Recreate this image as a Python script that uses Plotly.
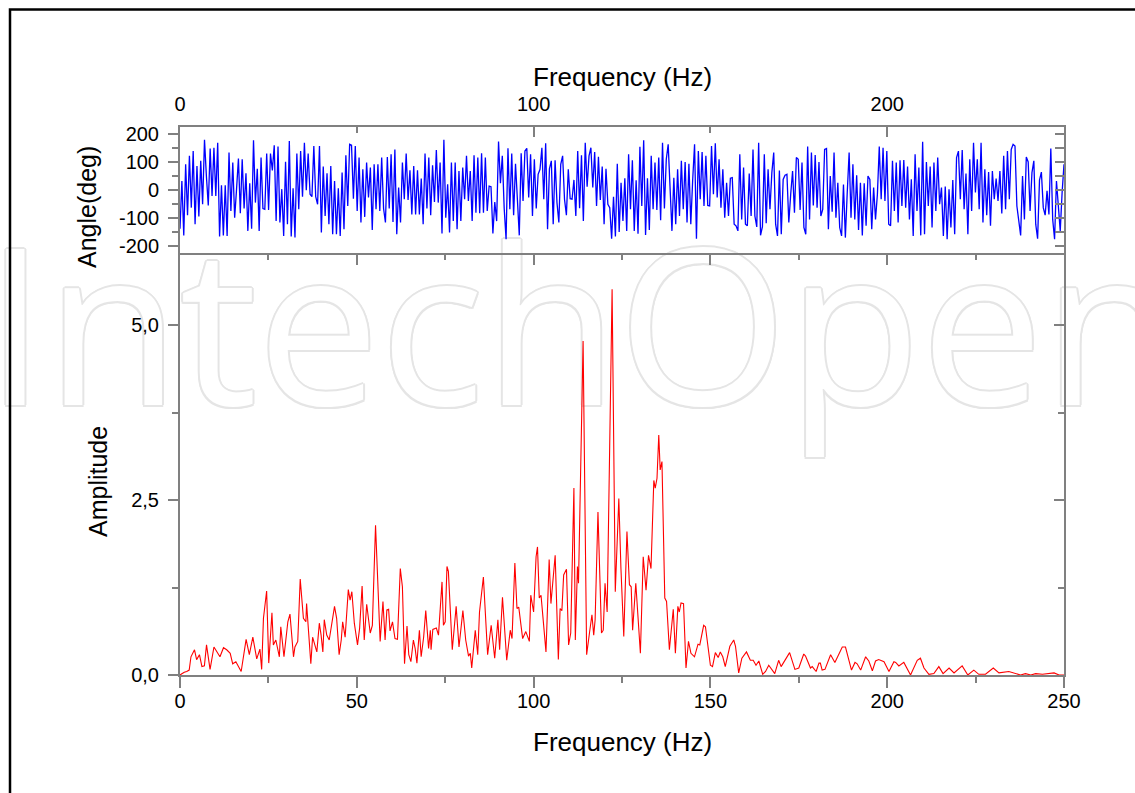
import numpy as np
import plotly.graph_objects as go

# ---------------- data ----------------
# Amplitude spectrum (red), frequency in Hz and amplitude
amp_freq = [
    0, 1.2, 1.9, 2.6, 3.1, 4.1, 4.7, 5.5, 6.2, 6.9,
    7.5, 8.5, 9.6, 10.6, 11.3, 12.3, 13.2, 14.2, 14.9, 15.8,
    17.3, 18.7, 19.6, 20.6, 21.7, 22.6, 23.1, 23.6, 24.5, 25.1,
    26.0, 26.4, 27.1, 28.1, 28.5, 29.4, 30.5, 31.1, 32.1, 32.5,
    33.3, 34.0, 34.9, 35.6, 35.8, 37.0, 37.5, 38.7, 39.4, 39.9,
    40.4, 40.8, 41.5, 42.2, 42.9, 43.7, 44.3, 45.0, 45.6, 46.0,
    46.7, 47.6, 48.1, 48.6, 49.3, 50.2, 50.8, 51.5, 52.1, 52.8,
    53.8, 54.4, 55.3, 56.6, 57.4, 58.0, 58.5, 59.0, 59.4, 60.1,
    60.8, 61.5, 62.3, 62.9, 63.5, 64.2, 64.7, 65.3, 66.0, 66.5,
    67.0, 67.7, 68.2, 68.9, 69.5, 70.3, 70.8, 71.0, 71.5, 72.5,
    73.1, 74.1, 74.5, 75.0, 75.5, 75.9, 77.0, 78.1, 78.9, 80.0,
    80.8, 81.6, 82.1, 82.5, 83.5, 84.2, 84.7, 85.8, 87.0, 88.0,
    89.0, 89.9, 90.4, 91.2, 92.4, 93.4, 93.9, 94.7, 95.3, 95.8,
    96.9, 97.8, 98.8, 99.2, 100.0, 100.7, 101.1, 101.6, 102.1, 103.5,
    104.4, 104.9, 106.1, 107.0, 107.5, 108.0, 108.5, 109.3, 109.9, 110.5,
    111.4, 111.8, 112.4, 112.7, 114.0, 115.0, 115.8, 116.5, 117.0, 117.4,
    118.2, 119.2, 119.7, 120.2, 120.8, 122.2, 123.1, 124.1, 124.7, 125.5,
    126.4, 127.1, 127.6, 128.0, 128.9, 130.2, 131.0, 131.8, 132.5, 133.2,
    134.0, 134.4, 134.9, 135.4, 135.8, 136.3, 137.1, 137.6, 138.4, 139.5,
    140.1, 140.8, 141.2, 141.7, 142.4, 143.1, 143.8, 144.5, 145.5, 146.5,
    147.0, 148.1, 148.6, 150.0, 150.6, 151.4, 152.2, 152.8, 153.5, 154.2,
    155.5, 156.6, 157.1, 158.0, 158.9, 160.2, 161.3, 162.1, 162.9, 163.7,
    164.8, 165.6, 166.5, 168.2, 169.3, 170.0, 172.4, 173.9, 175.0, 176.4,
    176.9, 178.3, 178.8, 179.9, 180.7, 181.1, 181.6, 182.4, 184.0, 185.2,
    187.3, 188.2, 189.9, 190.9, 191.5, 192.5, 193.9, 194.8, 195.8, 196.7,
    197.6, 199.1, 200.5, 201.9, 202.4, 203.3, 204.7, 206.6, 208.5, 209.4,
    210.4, 211.8, 213.2, 214.6, 215.8, 217.5, 218.9, 221.2, 222.8, 224.5,
    225.9, 227.8, 230.0, 231.6, 234.4, 237.7, 239.1, 240.6, 242.0, 243.9,
    247.2, 248.6, 250.0,
]
amp_val = [
    0, .04, .05, .07, .26, .36, .22, .29, .12, .13,
    .43, .08, .40, .31, .26, .39, .36, .31, .16, .19,
    .05, .51, .29, .54, .23, .37, .08, .81, 1.20, .17,
    .89, .43, .50, .26, .69, .26, .76, .87, .26, .40,
    .48, 1.37, .81, .76, 1.02, .16, .54, .33, .74, .57,
    .33, .79, .57, .50, .71, .98, .81, .29, .50, .76,
    .54, 1.22, 1.07, 1.19, .74, .43, .67, 1.27, .50, 1.01,
    .60, .71, 2.14, .48, 1.05, .50, .93, .94, .63, .76,
    .52, .51, 1.52, 1.26, .16, .70, .29, .19, .50, .38,
    .17, .64, .26, .54, .92, .38, .64, .36, .65, .67,
    .57, 1.33, .71, .76, 1.55, 1.48, .36, .98, .40, .92,
    .50, .27, .31, .10, .64, .29, .90, 1.40, .29, .71,
    .24, .79, .36, 1.11, .21, .64, .52, 1.60, .95, .97,
    .52, .62, .48, 1.14, .90, 1.69, 1.83, 1.10, 1.14, .33,
    1.65, 1.02, 1.71, .22, .95, .92, 1.43, 1.51, .43, .60,
    2.67, .50, 1.55, 1.31, 4.77, .29, .60, .86, .57, .79,
    2.33, .60, .64, 1.31, .90, 5.51, 1.19, 2.52, 1.52, .55,
    2.05, 1.29, 1.26, .64, 1.31, .31, 1.69, 1.21, 1.71, 1.52,
    2.78, 2.67, 2.81, 3.43, 2.93, 3.05, 1.10, 1.05, .36, .94,
    .31, .98, .90, 1.03, 1.02, .10, .48, .31, .26, .44,
    .43, .71, .69, .14, .12, .32, .25, .33, .26, .12,
    .41, .50, .41, .03, .24, .33, .21, .21, .14, .20,
    .01, .05, .14, .02, .21, .12, .32, .08, .10, .30,
    .27, .10, .12, .05, .17, .17, .07, .08, .29, .18,
    .40, .40, .07, .18, .16, .07, .26, .20, .06, .20,
    .22, .19, .05, .19, .18, .13, .18, .00, .21, .24,
    .10, .01, .02, .12, .02, .10, .03, .13, .00, .07,
    .01, .01, .10, .03, .05, .00, .02, .00, .02, .01,
    .03, .00, .00,
]

# Phase spectrum (blue), degrees, evenly spaced over 0..250 Hz
phase_deg = [
    -137, 33, -161, 93, -89, 123, -62, 140, -121, 87,
    -94, 105, -50, 180, 51, -54, 149, -20, 152, -20,
    170, -165, 18, -161, 18, -163, 135, -74, 99, -98,
    4, 113, -82, 111, -65, 61, -145, 25, -137, 179,
    -44, 77, -145, 117, -65, -68, 131, -70, 131, 71,
    161, -110, 156, -115, 4, -163, 102, -121, 176, -165,
    7, -169, 131, -68, 140, -23, 170, 0, 131, -14,
    -23, 158, -23, -50, 158, -151, 85, -92, 61, -121,
    87, -157, 33, -157, 7, -163, 63, -139, 125, -56,
    164, 161, -30, 158, -74, 117, -115, 75, -95, 99,
    -26, 81, -142, 93, -68, 93, -74, 117, -65, -115,
    119, -65, 129, -113, 146, -157, 10, -115, 99, -32,
    131, -35, 71, -86, 87, -86, 71, -86, 42, -121,
    131, -65, 117, -89, 89, -42, 144, -44, 99, -154,
    180, -98, 21, -151, 99, -110, 99, -139, 69, -110,
    81, -32, 123, -38, 69, -110, 125, -80, 117, -82,
    132, -80, 117, -74, 15, 13, -154, -42, -110, 174,
    25, 123, -65, -175, 150, -68, 131, -89, 95, -32,
    -161, 132, -38, 140, 150, -26, 129, -92, 111, -65,
    57, 75, 152, -32, 168, -139, 77, 105, -121, 107,
    -44, -115, 93, 123, -32, -89, 75, -30, -32, 37,
    -92, 140, -64, 125, -110, 170, 13, 123,
    152, 10, 137, -56, 120, -35, 85, -121, 77, -50,
    -62, -173, -23, -165, 95, -149, 27, -110, 43, -145,
    129, -68, 107, -145, 36, -155, 155, -56, 179, -160,
    43, -142, 123, -68, 99, -70, 117, -107, 170, -65,
    111, 164, -18, -145, 45, -121, 75, -92, 105, -68,
    101, -115, 95, -121, 37, 164, -173, 140, -32, 137,
    -56, 123, -54, -56, 158, -14, 168, -26, 111, -62,
    75, -98, 27, -92, 43, 45, -121, -127, -145, 129,
    -104, 81, -121, -127, 60, -92, 146, -92, -131, 170,
    -161, -130, 129, -118, 75, -68, 63, 135, -121, -163,
    71, -157, 39, 54, 57, -115, -14, 69, -80, 117,
    111, -70, 99, -133, -157, 156, -104, 135, -54, 126,
    -62, 101, -92, -68, 146, 149, -139, 51, -77, 135,
    -98, 27, -133, -163, 21, -169, -8, 135, -98, 93,
    -104, 54, -142, 27, -161, 25, -127, 51, 39, -139,
    10, -104, -14, 156, -32, 152, -38, 140, -121, -127,
    105, -74, 99, -115, 107, -56, 108, -62, 85, -104,
    39, -163, 129, -74, 81, -161, 173, -157, 101, -56,
    85, -133, 99, -74, 117, -50, 10, -163, 13, -175,
    4, -133, 37, -157, 117, 140, -32, 144, -68, 60,
    -157, 111, -74, 170, -8, 111, -68, 170, -115, 75,
    -89, 65, -127, 69, -32, 42, -38, 69, -83, 123,
    -68, 140, -32, 146, 164, 158, -56, -115, -161, 51,
    -104, 119, 101, -74, 63, 105, -121, -173, 36, 65,
    -62, -89, -2, -86, 149, -104, -175, 33, -65, -145,
    -8, 93,
]
phase_freq = np.linspace(0, 250, len(phase_deg))

# tick values / labels
freq_ticks_bottom = [0, 50, 100, 150, 200, 250]
freq_labels_bottom = ["0", "50", "100", "150", "200", "250"]
freq_minor_bottom = [25, 75, 125, 175, 225]
freq_ticks_top = [0, 100, 200]
freq_labels_top = ["0", "100", "200"]
freq_minor_top = [50, 150, 250]
amp_ticks = [0, 2.5, 5.0]
amp_labels = ["0,0", "2,5", "5,0"]
amp_minor = [1.25, 3.75]
angle_ticks = [-200, -100, 0, 100, 200]
angle_labels = ["-200", "-100", "0", "100", "200"]
angle_minor = [-150, -50, 50, 150]
watermark_text = "IntechOpen"

# ---------------- layout constants ----------------
W, H = 1135, 793
FONT = "Liberation Sans, Arial, Helvetica, sans-serif"
AX = "#808080"
PX_L, PX_R = 180, 1064
x_dom = [PX_L / W, PX_R / W]
y_dom_bot = [1 - 675 / H, 1 - 255 / H]
y_dom_top = [1 - 253 / H, 1 - 127 / H]
amp_range = [0, (675 - 255) / 70.0]
ang_range = [-224, 226]
f_range = [0, 250]

fig = go.Figure()

# watermark: light grey outline built from offset copies, white copy on top.
# anchored at its centre (inside the axis range so it is not hidden)
px_per_hz = (PX_R - PX_L) / (f_range[1] - f_range[0])
px_per_amp = 70.0
wm_cx, wm_cy, off = 113.4, 4.63, 2.0
offsets = [(off, 0), (-off, 0), (0, off), (0, -off),
           (1.4, 1.4), (-1.4, -1.4), (1.4, -1.4), (-1.4, 1.4), (0, 0)]
wm_x = [wm_cx + dx / px_per_hz for dx, dy in offsets]
wm_y = [wm_cy + dy / px_per_amp for dx, dy in offsets]
wm_col = ["#e5e5e5"] * (len(offsets) - 1) + ["#ffffff"]
fig.add_trace(go.Scatter(
    x=wm_x, y=wm_y, mode="text", text=[watermark_text] * len(offsets),
    textposition="middle center",
    textfont=dict(family="Open Sans, Liberation Sans, sans-serif", size=218, color=wm_col),
    cliponaxis=False, hoverinfo="skip", showlegend=False, xaxis="x", yaxis="y"))

# amplitude (red)
fig.add_trace(go.Scatter(x=amp_freq, y=amp_val, mode="lines",
                         line=dict(color="#ff0000", width=1.1), xaxis="x", yaxis="y",
                         showlegend=False, hoverinfo="skip"))
# phase (blue)
fig.add_trace(go.Scatter(x=phase_freq, y=phase_deg, mode="lines",
                         line=dict(color="#0000ff", width=1.3), xaxis="x2", yaxis="y2",
                         showlegend=False, hoverinfo="skip"))
# dummy traces to activate overlay axes (inside mirror ticks)
fig.add_trace(go.Scatter(x=[], y=[], xaxis="x3", yaxis="y", showlegend=False, hoverinfo="skip"))
fig.add_trace(go.Scatter(x=[], y=[], xaxis="x", yaxis="y3", showlegend=False, hoverinfo="skip"))
fig.add_trace(go.Scatter(x=[], y=[], xaxis="x2", yaxis="y4", showlegend=False, hoverinfo="skip"))

common = dict(showgrid=False, zeroline=False, linecolor=AX, linewidth=2, automargin=False,
              tickcolor=AX, tickwidth=2, tickfont=dict(family=FONT, size=20, color="black"))


def minor(vals, where, length):
    return dict(tickmode="array", tickvals=vals, ticks=where, ticklen=length,
                tickwidth=2, tickcolor=AX, showgrid=False)


fig.update_layout(
    width=W, height=H, margin=dict(l=0, r=0, t=0, b=0, autoexpand=False),
    paper_bgcolor="white", plot_bgcolor="rgba(0,0,0,0)", showlegend=False,
    font=dict(family=FONT, color="black"),
    xaxis=dict(domain=x_dom, anchor="y", range=f_range, showline=True, mirror=True,
               ticks="outside", ticklen=11, tickmode="array", tickvals=freq_ticks_bottom,
               ticktext=freq_labels_bottom, ticklabelstandoff=-4,
               minor=minor(freq_minor_bottom, "outside", 6), **common),
    yaxis=dict(domain=y_dom_bot, anchor="x", range=amp_range, showline=True, mirror=True,
               ticks="outside", ticklen=10, tickmode="array", tickvals=amp_ticks, ticktext=amp_labels,
               ticklabelstandoff=5, minor=minor(amp_minor, "outside", 6), **common),
    xaxis3=dict(overlaying="x", anchor="y", side="top", range=f_range, showline=False,
                showticklabels=False, ticks="inside", ticklen=10, tickmode="array",
                tickvals=freq_ticks_bottom, minor=minor(freq_minor_bottom, "inside", 5), **common),
    yaxis3=dict(overlaying="y", anchor="x", side="right", range=amp_range, showline=False,
                showticklabels=False, ticks="inside", ticklen=10, tickmode="array", tickvals=amp_ticks,
                minor=minor(amp_minor, "inside", 6), **common),
    xaxis2=dict(domain=x_dom, anchor="y2", side="top", range=f_range, showline=True, mirror=True,
                ticks="inside", ticklen=10, tickmode="array", tickvals=freq_ticks_top,
                ticktext=freq_labels_top, ticklabelstandoff=6,
                minor=minor(freq_minor_top, "inside", 6), **common),
    yaxis2=dict(domain=y_dom_top, anchor="x2", range=ang_range, showline=True, mirror=True,
                ticks="outside", ticklen=10, tickmode="array", tickvals=angle_ticks,
                ticktext=angle_labels, ticklabelstandoff=5,
                minor=minor(angle_minor, "outside", 6), **common),
    yaxis4=dict(overlaying="y2", anchor="x2", side="right", range=ang_range, showline=False,
                showticklabels=False, ticks="inside", ticklen=9, tickmode="array", tickvals=angle_ticks,
                minor=minor(angle_minor, "inside", 9), **common),
)

# axis titles
cx = (x_dom[0] + x_dom[1]) / 2
title_font = dict(family=FONT, size=26, color="black")
fig.add_annotation(text="Frequency (Hz)", x=cx, y=1 - 742 / H, xref="paper", yref="paper",
                   xanchor="center", yanchor="middle", showarrow=False, font=title_font)
fig.add_annotation(text="Frequency (Hz)", x=cx, y=1 - 77 / H, xref="paper", yref="paper",
                   xanchor="center", yanchor="middle", showarrow=False, font=title_font)
fig.add_annotation(text="Amplitude", x=98 / W, y=1 - 482 / H, xref="paper", yref="paper",
                   xanchor="center", yanchor="middle", showarrow=False, textangle=-90,
                   font=dict(family=FONT, size=25, color="black"))
fig.add_annotation(text="Angle(deg)", x=87 / W, y=1 - 207 / H, xref="paper", yref="paper",
                   xanchor="center", yanchor="middle", showarrow=False, textangle=-90,
                   font=dict(family=FONT, size=25, color="black"))

# outer frame
fig.add_shape(type="rect", xref="paper", yref="paper", x0=10 / W, x1=1.05, y0=-0.05,
              y1=1 - 9.5 / H, line=dict(color="black", width=2.5), fillcolor="rgba(0,0,0,0)",
              layer="above")

fig.write_html("out.html", config={"displayModeBar": False})
